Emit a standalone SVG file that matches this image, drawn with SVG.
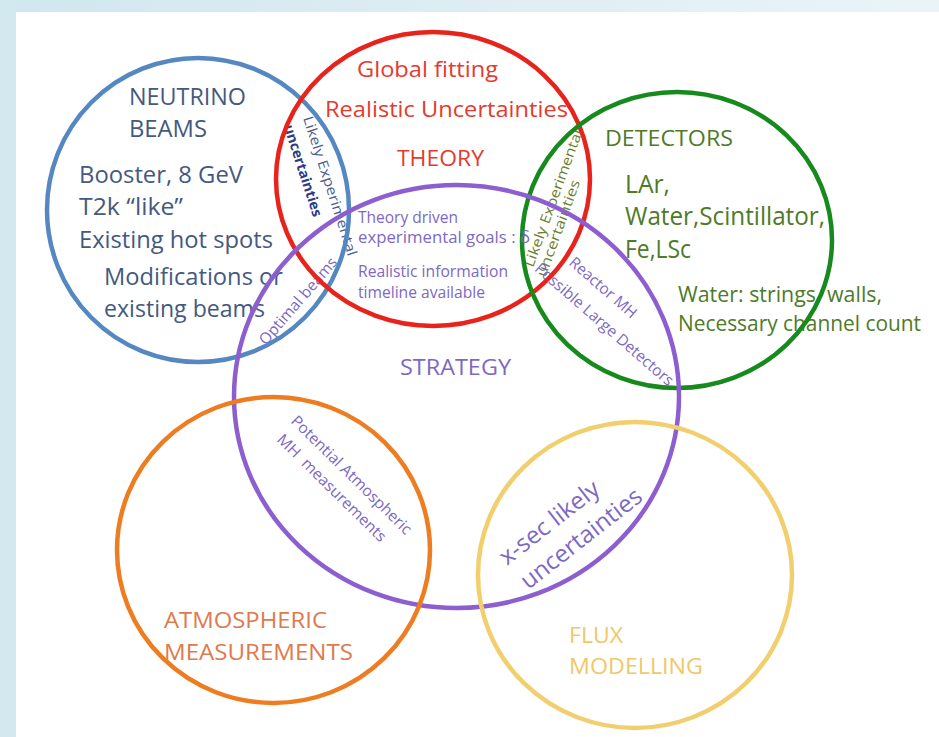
<svg xmlns="http://www.w3.org/2000/svg" width="939" height="737" viewBox="0 0 939 737">
<defs>
<linearGradient id="bg" x1="0" y1="0" x2="1" y2="0">
<stop offset="0" stop-color="#d0e7ef"/>
<stop offset="1" stop-color="#eaf4f7"/>
</linearGradient>
</defs>
<style>
text{font-family:"Open Sans","Liberation Sans",sans-serif}
.c{fill:none;stroke-width:4.5}
.blue{stroke:#5588c0}
.red{stroke:#e8231c}
.green{stroke:#178a1d}
.purple{stroke:#8c5ecf}
.orange{stroke:#ee7c20}
.yellow{stroke:#f2cf6e}
.tb{fill:#44597f;font-size:23px}
.tr{fill:#e53a2e;font-size:22px}
.tg{fill:#4e7a29}
.tp{fill:#7d68c4}
.to{fill:#de7a4e;font-size:21px}
.ty{fill:#efc867;font-size:22px}
.s14{font-size:14px}
.s15{font-size:15.5px}
.s16{font-size:16px}
</style>
<rect x="0" y="0" width="939" height="737" fill="url(#bg)"/>
<rect x="0" y="0" width="16" height="737" fill="#d3e9f0"/>
<rect x="16" y="12" width="923" height="725" fill="#ffffff"/>

<g id="label-beams-theory">
<g transform="translate(303,118) rotate(72)">
<text x="0" y="0" class="s14" fill="#4a6092" textLength="146" lengthAdjust="spacingAndGlyphs">Likely Experimental</text>
<text x="2" y="21" class="s14" fill="#2c3d86" font-weight="bold" textLength="96" lengthAdjust="spacingAndGlyphs">uncertainties</text>
</g>
</g>
<g id="label-theory-detectors">
<g transform="translate(533,268) rotate(-70)">
<text x="0" y="0" class="s14" fill="#6a7e30" textLength="145" lengthAdjust="spacingAndGlyphs">Likely Experimental</text>
<text x="-5" y="15" class="s14" fill="#6a7e30" textLength="102" lengthAdjust="spacingAndGlyphs">uncertainties</text>
</g>
</g>
<g id="label-strategy-detectors" class="tp">
<g transform="translate(568,264) rotate(41)">
<text x="0" y="0" class="s15" textLength="84" lengthAdjust="spacingAndGlyphs">Reactor MH</text>
<text x="-22" y="27" class="s15" textLength="178" lengthAdjust="spacingAndGlyphs">Possible Large Detectors</text>
</g>
</g>
<g id="label-beams-strategy" class="tp">
<text transform="translate(266,346) rotate(-49)" class="s15" textLength="110" lengthAdjust="spacingAndGlyphs">Optimal beams</text>
</g>
<g id="label-strategy-atmospheric" class="tp">
<g transform="translate(290,422) rotate(44.5)">
<text x="0" y="0" class="s15" textLength="162" lengthAdjust="spacingAndGlyphs">Potential Atmospheric</text>
<text x="3" y="23" class="s15" textLength="146" lengthAdjust="spacingAndGlyphs" xml:space="preserve">MH  measurements</text>
</g>
</g>
<g id="label-strategy-flux" class="tp">
<g transform="translate(507,566) rotate(-38)">
<text x="0" y="0" font-size="24" textLength="120" lengthAdjust="spacingAndGlyphs">x-sec likely</text>
<text x="2" y="32" font-size="24" textLength="147" lengthAdjust="spacingAndGlyphs">uncertainties</text>
</g>
</g>

<g id="node-beams">
<text class="tb" x="129" y="105" font-size="21" textLength="117" lengthAdjust="spacingAndGlyphs">NEUTRINO</text>
<text class="tb" x="129" y="137" font-size="21" textLength="78" lengthAdjust="spacingAndGlyphs">BEAMS</text>
<text class="tb" x="79" y="183" textLength="164" lengthAdjust="spacingAndGlyphs">Booster, 8 GeV</text>
<text class="tb" x="79" y="215" textLength="104" lengthAdjust="spacingAndGlyphs">T2k “like”</text>
<text class="tb" x="79" y="248" textLength="194" lengthAdjust="spacingAndGlyphs">Existing hot spots</text>
<text class="tb" x="104" y="285" textLength="179" lengthAdjust="spacingAndGlyphs">Modifications or</text>
<text class="tb" x="104" y="317" textLength="161" lengthAdjust="spacingAndGlyphs">existing beams</text>
<ellipse class="c blue" cx="198" cy="210" rx="151" ry="152"/>
</g>

<g id="node-theory">
<text class="tr" x="357" y="77" textLength="141" lengthAdjust="spacingAndGlyphs">Global fitting</text>
<text class="tr" x="325" y="117" textLength="243" lengthAdjust="spacingAndGlyphs">Realistic Uncertainties</text>
<text class="tr" x="397" y="166" font-size="21" textLength="87" lengthAdjust="spacingAndGlyphs">THEORY</text>
<ellipse class="c red" cx="433" cy="179" rx="157" ry="147"/>
</g>

<g id="node-detectors">
<text class="tg" x="605" y="146" font-size="22" textLength="128" lengthAdjust="spacingAndGlyphs">DETECTORS</text>
<text class="tg" x="625" y="193" font-size="25" textLength="45" lengthAdjust="spacingAndGlyphs">LAr,</text>
<text class="tg" x="625" y="225" font-size="25" textLength="200" lengthAdjust="spacingAndGlyphs">Water,Scintillator,</text>
<text class="tg" x="625" y="258" font-size="25" textLength="66" lengthAdjust="spacingAndGlyphs">Fe,LSc</text>
<text class="tg" x="678" y="302" font-size="21" textLength="204" lengthAdjust="spacingAndGlyphs">Water: strings, walls,</text>
<text class="tg" x="678" y="331" font-size="21" textLength="243" lengthAdjust="spacingAndGlyphs">Necessary channel count</text>
<ellipse class="c green" cx="677" cy="240" rx="155" ry="148"/>
</g>

<g id="node-strategy">
<text class="tp" x="358" y="223" font-size="16" textLength="100" lengthAdjust="spacingAndGlyphs">Theory driven</text>
<text class="tp" x="358" y="243" font-size="16" textLength="172" lengthAdjust="spacingAndGlyphs">experimental goals : δ</text>
<text class="tp" x="358" y="277" font-size="16" textLength="150" lengthAdjust="spacingAndGlyphs">Realistic information</text>
<text class="tp" x="358" y="298" font-size="16" textLength="127" lengthAdjust="spacingAndGlyphs">timeline available</text>
<text class="tp" x="400" y="375" font-size="21" textLength="111" lengthAdjust="spacingAndGlyphs">STRATEGY</text>
<ellipse class="c purple" cx="456.5" cy="396.5" rx="222.5" ry="211.5"/>
</g>

<g id="node-atmospheric">
<text class="to" x="164" y="628" textLength="163" lengthAdjust="spacingAndGlyphs">ATMOSPHERIC</text>
<text class="to" x="164" y="660" textLength="189" lengthAdjust="spacingAndGlyphs">MEASUREMENTS</text>
<ellipse class="c orange" cx="273.5" cy="550" rx="156.5" ry="153"/>
</g>

<g id="node-flux">
<text class="ty" x="569" y="643" textLength="54" lengthAdjust="spacingAndGlyphs">FLUX</text>
<text class="ty" x="569" y="674" textLength="134" lengthAdjust="spacingAndGlyphs">MODELLING</text>
<ellipse class="c yellow" cx="635" cy="575" rx="157" ry="153"/>
</g>
</svg>
